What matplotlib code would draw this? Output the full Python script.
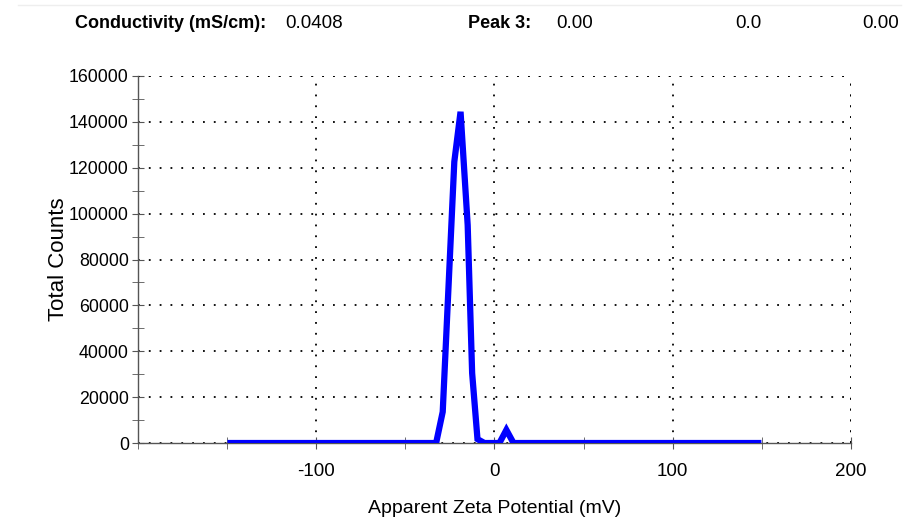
import numpy as np
import matplotlib.pyplot as plt
from matplotlib.ticker import MultipleLocator

# zeta potential distribution
zeta = [-148, -100, -50, -32.7, -29, -22.5, -19, -15, -12.5, -9.5, -5.6,
        0, 2.8, 6.7, 10.7, 50, 100, 148]
counts = [0, 0, 0, 0, 13600, 122600, 144400, 95000, 30500, 1700, 0,
          0, 0, 5700, 0, 0, 0, 0]

xticks = [-100, 0, 100, 200]
yticks = list(range(0, 160001, 20000))

plt.rcParams['font.family'] = ['Liberation Sans', 'DejaVu Sans']
plt.rcParams['axes.unicode_minus'] = False

fig = plt.figure(figsize=(9.19, 5.19), dpi=100)
ax = fig.add_axes([0.150, 0.1464, 0.776, 0.7072])

ax.plot(zeta, counts, color='#0000ff', lw=4.5, solid_joinstyle='miter', zorder=3)

ax.set_xlim(-200, 200)
ax.set_ylim(0, 160000)
ax.set_xticks(xticks)
ax.set_yticks(yticks)
ax.xaxis.set_minor_locator(MultipleLocator(50))
ax.yaxis.set_minor_locator(MultipleLocator(10000))
ax.set_yticklabels([str(v) for v in yticks])

ax.grid(True, which='major', color='black', linestyle=(0, (1, 5)), lw=1.3)
ax.axvline(200, color='black', linestyle=(0, (1, 5)), lw=1.3)
ax.axhline(160000, color='black', linestyle=(0, (1, 5)), lw=1.3)

for s in ['top', 'right']:
    ax.spines[s].set_visible(False)
for s in ['left', 'bottom']:
    ax.spines[s].set_color('#555555')
    ax.spines[s].set_linewidth(1.0)

ax.tick_params(which='both', direction='inout', color='#555555')
ax.tick_params(which='major', length=9)
ax.tick_params(which='minor', length=9)
ax.tick_params(axis='x', pad=10, labelsize=13.5)
ax.tick_params(axis='y', pad=2, labelsize=12.8)

ax.set_xlabel('Apparent Zeta Potential (mV)', fontsize=14, labelpad=14)
ax.set_ylabel('Total Counts', fontsize=16)
ax.yaxis.set_label_coords(-0.097, 0.5)

# header strip
fig.add_artist(plt.Line2D([0.02, 0.98], [0.99, 0.99], color='#eeeeee', lw=1))
fig.text(0.082, 0.955, 'Conductivity (mS/cm):', fontsize=13, fontweight='bold', va='center')
fig.text(0.310, 0.955, '0.0408', fontsize=13.5, va='center')
fig.text(0.509, 0.955, 'Peak 3:', fontsize=13, fontweight='bold', va='center')
fig.text(0.605, 0.955, '0.00', fontsize=13.5, va='center')
fig.text(0.800, 0.955, '0.0', fontsize=13.5, va='center')
fig.text(0.938, 0.955, '0.00', fontsize=13.5, va='center')

fig.savefig('out.png', dpi=100)
